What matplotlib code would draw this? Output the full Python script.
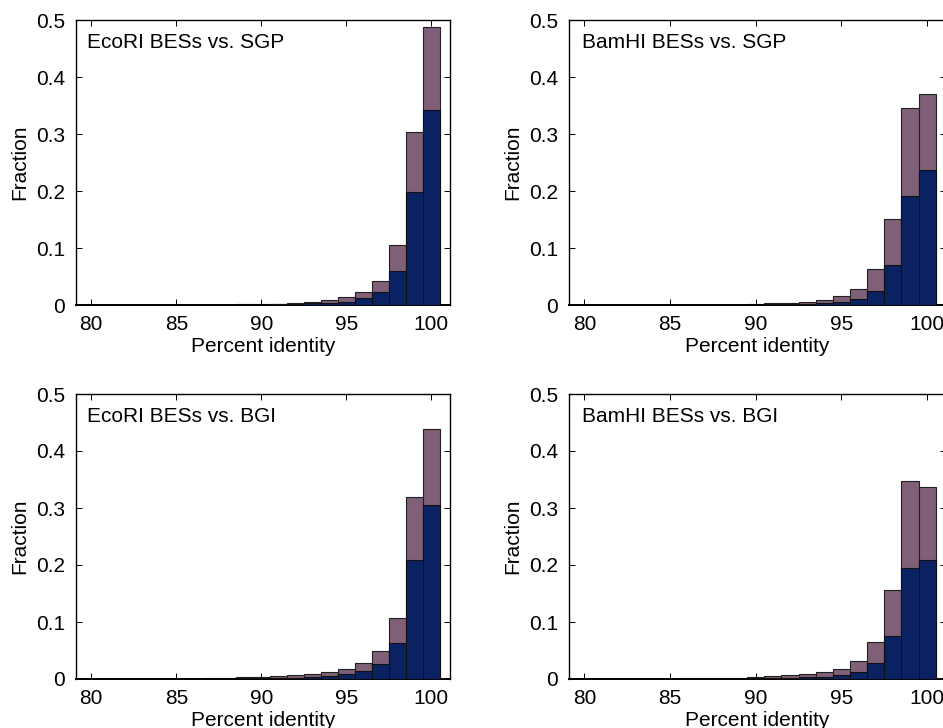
import numpy as np
import matplotlib
matplotlib.use("Agg")
import matplotlib.pyplot as plt
from matplotlib.ticker import FuncFormatter

plt.rcParams['font.family'] = ['Liberation Sans', 'DejaVu Sans']

# bin centres (percent identity)
bins = list(range(81, 101))

# EcoRI BESs vs. SGP
eco_sgp_all = [0.0005, 0.0005, 0.0005, 0.0005, 0.0005, 0.0005, 0.0007, 0.0008, 0.001, 0.0015,
               0.002, 0.0035, 0.006, 0.008, 0.014, 0.023, 0.042, 0.105, 0.304, 0.488]
eco_sgp_sub = [0.0002, 0.0002, 0.0002, 0.0002, 0.0002, 0.0002, 0.0003, 0.0003, 0.0004, 0.0005,
               0.001, 0.002, 0.003, 0.0035, 0.005, 0.012, 0.022, 0.060, 0.199, 0.342]

# BamHI BESs vs. SGP
bam_sgp_all = [0.0008, 0.0, 0.0008, 0.0005, 0.0005, 0.0005, 0.0005, 0.0007, 0.0008, 0.0015,
               0.003, 0.004, 0.005, 0.008, 0.016, 0.028, 0.064, 0.151, 0.346, 0.371]
bam_sgp_sub = [0.0, 0.0, 0.0003, 0.0002, 0.0002, 0.0002, 0.0002, 0.0003, 0.0003, 0.0005,
               0.001, 0.001, 0.002, 0.003, 0.005, 0.010, 0.025, 0.070, 0.192, 0.236]

# EcoRI BESs vs. BGI
eco_bgi_all = [0.0, 0.0, 0.0, 0.0, 0.0002, 0.0005, 0.001, 0.002, 0.003, 0.004,
               0.006, 0.0076, 0.009, 0.013, 0.018, 0.028, 0.050, 0.107, 0.320, 0.439]
eco_bgi_sub = [0.0, 0.0, 0.0, 0.0, 0.0001, 0.0002, 0.0004, 0.0005, 0.001, 0.001,
               0.002, 0.0025, 0.004, 0.006, 0.008, 0.014, 0.027, 0.063, 0.208, 0.306]

# BamHI BESs vs. BGI
bam_bgi_all = [0.0, 0.0, 0.0, 0.0, 0.0, 0.001, 0.001, 0.0015, 0.002, 0.004,
               0.006, 0.0076, 0.009, 0.013, 0.018, 0.032, 0.065, 0.156, 0.347, 0.336]
bam_bgi_sub = [0.0, 0.0, 0.0, 0.0, 0.0, 0.0003, 0.0003, 0.0005, 0.0005, 0.001,
               0.001, 0.002, 0.003, 0.004, 0.0076, 0.012, 0.028, 0.075, 0.194, 0.208]

titles = ["EcoRI BESs vs. SGP", "BamHI BESs vs. SGP",
          "EcoRI BESs vs. BGI", "BamHI BESs vs. BGI"]
data = [(eco_sgp_all, eco_sgp_sub), (bam_sgp_all, bam_sgp_sub),
        (eco_bgi_all, eco_bgi_sub), (bam_bgi_all, bam_bgi_sub)]

mauve = "#806078"
navy = "#0b2262"
fs = 15

W, H = 943, 728
fig = plt.figure(figsize=(W / 100, H / 100), dpi=100)

# axes boxes in pixels: left, top, right, bottom
boxes = [(76, 20, 450, 305), (569, 20, 946, 305),
         (76, 394, 450, 679), (569, 394, 946, 679)]
text_x = [0.03, 0.035, 0.03, 0.035]

for k, (l, t, r, b) in enumerate(boxes):
    ax = fig.add_axes([l / W, 1 - b / H, (r - l) / W, (b - t) / H])
    tot, sub = data[k]
    ax.bar(bins, tot, width=1.0, color=mauve, edgecolor="#202020", linewidth=0.8, zorder=2)
    ax.bar(bins, sub, width=1.0, color=navy, edgecolor="#101010", linewidth=0.8, zorder=3)
    ax.set_xlim(79.1, 101.1)
    ax.set_ylim(0, 0.5)
    ax.set_xticks([80, 85, 90, 95, 100])
    ax.set_yticks([0, 0.1, 0.2, 0.3, 0.4, 0.5])
    ax.yaxis.set_major_formatter(FuncFormatter(lambda v, p: "0" if v == 0 else f"{v:.1f}"))
    ax.tick_params(direction="in", top=True, right=True, length=4, width=0.7,
                   labelsize=fs)
    ax.tick_params(axis="x", pad=7)
    ax.tick_params(axis="y", pad=8)
    for s in ax.spines.values():
        s.set_linewidth(1.0)
    ax.spines["bottom"].set_linewidth(1.4)
    ax.set_xlabel("Percent identity", fontsize=fs, labelpad=2)
    ax.set_ylabel("Fraction", fontsize=fs, labelpad=5)
    ax.text(text_x[k], 0.92, titles[k], transform=ax.transAxes, fontsize=fs,
            ha="left", va="center")

fig.savefig("out.png", dpi=100)
